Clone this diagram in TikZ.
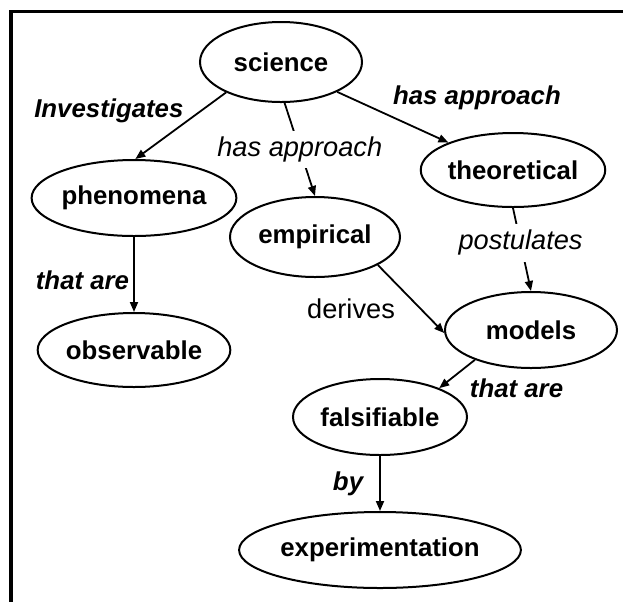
\documentclass[tikz,border=0pt]{standalone}
\usepackage{fontspec}
\setmainfont{Liberation Sans}
\usetikzlibrary{arrows.meta, positioning, shapes.geometric}

\begin{document}
\begin{tikzpicture}[
  x=0.5pt, y=-0.5pt,
  concept/.style={draw, ellipse, line width=1pt, inner sep=0pt, align=center,
                  font=\fontsize{12.9}{15}\selectfont\bfseries},
  rel/.style={font=\fontsize{12.9}{15}\selectfont\bfseries\itshape, inner sep=2pt},
  relthin/.style={font=\fontsize{13.6}{16}\selectfont\itshape, inner sep=3pt},
  relplain/.style={font=\fontsize{13.6}{16}\selectfont, inner sep=3pt},
  arr/.style={-{Triangle[length=5pt, width=4pt]}, line width=0.9pt}
]

\useasboundingbox (0,0) rectangle (623,602);

%% Frame (top and left edge only)
\draw[line width=1.5pt] (623,11) -- (11,11) -- (11,602);

%% Concepts
\node[concept, minimum width=81pt, minimum height=40pt] (science) at (281, 62) {science};
\node[concept, minimum width=86pt, minimum height=38pt] (phenomena) at (134, 198) {phenomena};
\node[concept, minimum width=86pt, minimum height=37pt] (observable) at (134, 350) {observable};
\node[concept, minimum width=85pt, minimum height=40pt] (empirical) at (315, 237) {empirical};
\node[concept, minimum width=85pt, minimum height=37pt] (theoretical) at (513, 170) {theoretical};
\node[concept, minimum width=86pt, minimum height=38pt] (models) at (531, 330) {models};
\node[concept, minimum width=87pt, minimum height=38pt] (falsifiable) at (380, 417) {falsifiable};
\node[concept, minimum width=115pt, minimum height=38pt] (experiment) at (380, 550) {experimentation};

%% Links from science
\draw[arr] (science.209) -- node[rel, pos=0.35, anchor=south east, xshift=-3pt, yshift=-6pt] {Investigates} (phenomena.88);
\draw[arr] (science.275) -- node[relthin, midway, fill=white] {has approach} (empirical.north);
\draw[arr] (science.332) -- node[rel, pos=0.45, above right=0pt and 0.5pt] {has approach} (theoretical.157);

%% Left branch
\draw[arr] (phenomena.south) -- node[rel, midway, left, yshift=-3pt] {that are} (observable.north);

%% Right branch
\draw[arr] (theoretical.south) -- node[relthin, pos=0.42, fill=white] {postulates} (models.north);
\draw[arr] (empirical.336) -- node[relplain, pos=0.3, anchor=north east, xshift=2pt, yshift=-3pt,
  fill=white] {derives} (models.182);
\draw[arr] (models.208) -- node[rel, midway, below right=0pt and 4pt] {that are} (falsifiable.26);
\draw[arr] (falsifiable.south) -- node[rel, midway, left=6pt] {by} (experiment.north);

\end{tikzpicture}
\end{document}
